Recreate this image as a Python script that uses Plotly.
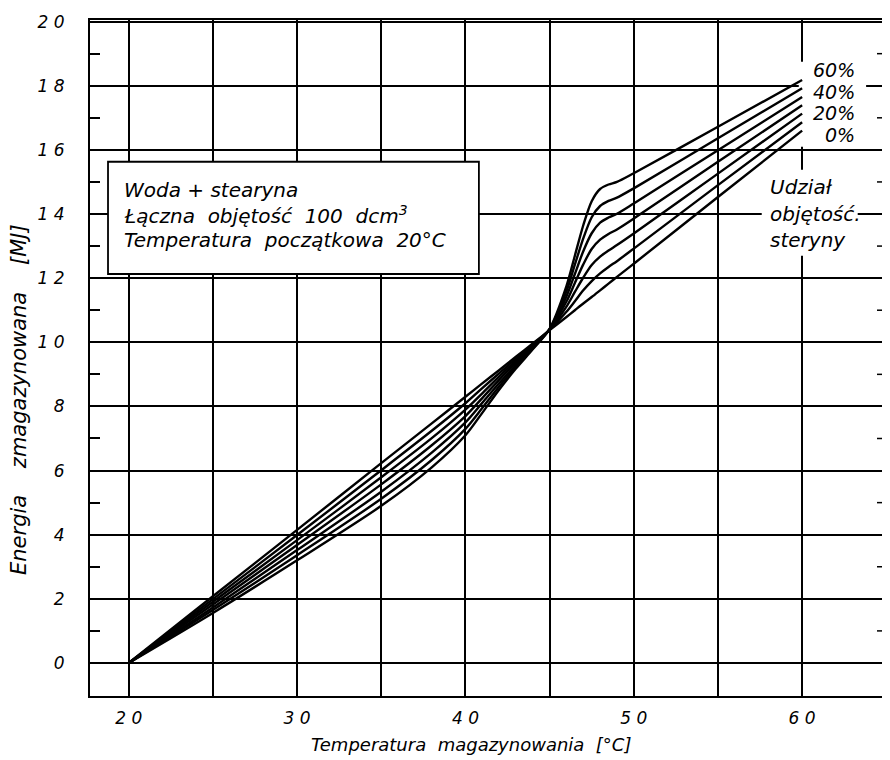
import plotly.graph_objects as go

# Temperature points [°C]
temperature = [20, 25, 30, 35, 38, 40, 41, 42, 43, 44, 45, 46, 46.5, 47, 47.5, 48, 48.5, 49, 50, 55, 60]

# Stored energy [MJ] for stearin volume share
e_0 = [0, 2.08, 4.15, 6.23, 7.47, 8.30, 8.72, 9.13, 9.55, 9.96, 10.38, 10.79, 11.00, 11.21, 11.41, 11.62, 11.83, 12.04, 12.45, 14.53, 16.60]
e_10 = [0, 1.99, 3.99, 6.01, 7.24, 8.10, 8.57, 9.03, 9.49, 9.93, 10.39, 10.95, 11.28, 11.62, 11.91, 12.15, 12.35, 12.53, 12.92, 14.90, 16.86]
e_20 = [0, 1.91, 3.83, 5.79, 7.01, 7.90, 8.41, 8.93, 9.43, 9.90, 10.39, 11.11, 11.57, 12.02, 12.41, 12.67, 12.86, 13.03, 13.39, 15.26, 17.13]
e_30 = [0, 1.82, 3.68, 5.57, 6.79, 7.70, 8.26, 8.83, 9.37, 9.87, 10.40, 11.27, 11.85, 12.43, 12.91, 13.20, 13.38, 13.52, 13.86, 15.63, 17.39]
e_40 = [0, 1.73, 3.52, 5.34, 6.56, 7.50, 8.11, 8.72, 9.30, 9.84, 10.41, 11.43, 12.13, 12.84, 13.40, 13.73, 13.89, 14.01, 14.33, 15.99, 17.65]
e_50 = [0, 1.65, 3.36, 5.12, 6.33, 7.30, 7.95, 8.62, 9.24, 9.81, 10.41, 11.59, 12.42, 13.24, 13.90, 14.25, 14.41, 14.51, 14.80, 16.36, 17.92]
e_60 = [0, 1.56, 3.20, 4.90, 6.10, 7.10, 7.80, 8.52, 9.18, 9.78, 10.42, 11.75, 12.70, 13.65, 14.40, 14.78, 14.92, 15.00, 15.27, 16.72, 18.18]

series = [e_0, e_10, e_20, e_30, e_40, e_50, e_60]

x_tickvals = [20, 30, 40, 50, 60]
x_ticktext = ["2 0", "3 0", "4 0", "5 0", "6 0"]
x_minor_grid = [25, 35, 45, 55]
y_tickvals = [0, 2, 4, 6, 8, 10, 12, 14, 16, 18, 20]
y_ticktext = ["0", "2", "4", "6", "8", "1 0", "1 2", "1 4", "1 6", "1 8", "2 0"]
y_minor = [1, 3, 5, 7, 9, 11, 13, 15, 17, 19]

share_labels = ["60%", "40%", "20%", "0%"]
share_label_y = [18.5, 17.8, 17.15, 16.45]

box_lines = ["Woda + stearyna",
             "Łączna\u00a0 objętość\u00a0 100\u00a0 dcm<sup>3</sup>",
             "Temperatura\u00a0 początkowa\u00a0 20°C"]
box_line_y = [14.75, 13.98, 13.2]

side_lines = ["Udział", "objętość.", "steryny"]
side_line_y = [14.85, 14.0, 13.2]

FONT = "DejaVu Sans"

fig = go.Figure()
for s in series:
    fig.add_trace(go.Scatter(
        x=temperature, y=s, mode="lines",
        line=dict(color="black", width=2.4, shape="spline", smoothing=0.8),
        showlegend=False, hoverinfo="skip"))

# page body has an 8px margin, so the figure is 8px smaller than the window
fig.update_layout(
    width=882, height=752,
    margin=dict(l=82, r=2, t=12, b=64, autoexpand=False),
    paper_bgcolor="white", plot_bgcolor="white",
    font=dict(family=FONT, size=17, color="black", style="italic"),
    xaxis=dict(range=[17.7, 65.1], tickvals=x_tickvals, ticktext=x_ticktext,
               showgrid=True, gridcolor="black", gridwidth=1.5,
               showline=True, linecolor="black", linewidth=2, mirror=True,
               ticks="", zeroline=False, ticklabelstandoff=6, automargin=False,
               tickfont=dict(family=FONT, size=17, style="italic"),
               minor=dict(tickvals=x_minor_grid, showgrid=True, gridcolor="black",
                          gridwidth=1.5, ticks="")),
    yaxis=dict(range=[-1.03, 20.05], tickvals=y_tickvals, ticktext=y_ticktext,
               showgrid=True, gridcolor="black", gridwidth=1.5,
               showline=True, linecolor="black", linewidth=2, mirror=True,
               ticks="inside", ticklen=10, tickwidth=1.5, tickcolor="black",
               zeroline=False, ticklabelstandoff=20, automargin=False,
               tickfont=dict(family=FONT, size=17, style="italic"),
               minor=dict(tickvals=y_minor, ticks="inside", ticklen=10,
                          tickwidth=1.5, tickcolor="black", showgrid=False)),
)

# right-edge minor ticks
for yv in y_minor:
    fig.add_shape(type="line", xref="paper", yref="y", x0=1, x1=1 - 11 / 798,
                  y0=yv, y1=yv, line=dict(color="black", width=1.5), layer="above")

# white panels behind labels (hide grid only)
fig.add_shape(type="rect", x0=59.8, x1=63.8, y0=16.1, y1=18.75,
              fillcolor="white", line=dict(width=0), layer="between")
fig.add_shape(type="rect", x0=57.6, x1=63.3, y0=12.7, y1=15.38,
              fillcolor="white", line=dict(width=0), layer="between")

# info box
fig.add_shape(type="rect", x0=18.77, x1=40.8, y0=12.13, y1=15.63,
              fillcolor="white", line=dict(color="black", width=1.8), layer="above")
for t, yy in zip(box_lines, box_line_y):
    fig.add_annotation(x=19.6, y=yy, text=t, showarrow=False, xanchor="left",
                       yanchor="middle", font=dict(family=FONT, size=20, style="italic"))

for t, yy in zip(share_labels, share_label_y):
    fig.add_annotation(x=63.25, y=yy, text=t, showarrow=False, xanchor="right",
                       yanchor="middle", font=dict(family=FONT, size=19, style="italic"))

for t, yy in zip(side_lines, side_line_y):
    fig.add_annotation(x=58.0, y=yy, text=t, showarrow=False, xanchor="left",
                       yanchor="middle", font=dict(family=FONT, size=20, style="italic"))

fig.add_annotation(xref="paper", yref="paper", x=(471 - 90) / 798, y=-(744 - 696) / 676,
                   text="Temperatura\u00a0 magazynowania\u00a0 [°C]", showarrow=False,
                   xanchor="center", yanchor="middle",
                   font=dict(family=FONT, size=18, style="italic"))
fig.add_annotation(xref="paper", yref="paper", x=-(90 - 19) / 798, y=(696 - 400) / 676,
                   text="Energia\u00a0\u00a0\u00a0 zmagazynowana\u00a0\u00a0\u00a0 [MJ]", showarrow=False,
                   textangle=-90, xanchor="center", yanchor="middle",
                   font=dict(family=FONT, size=21, style="italic"))

fig.write_html("out.html")
